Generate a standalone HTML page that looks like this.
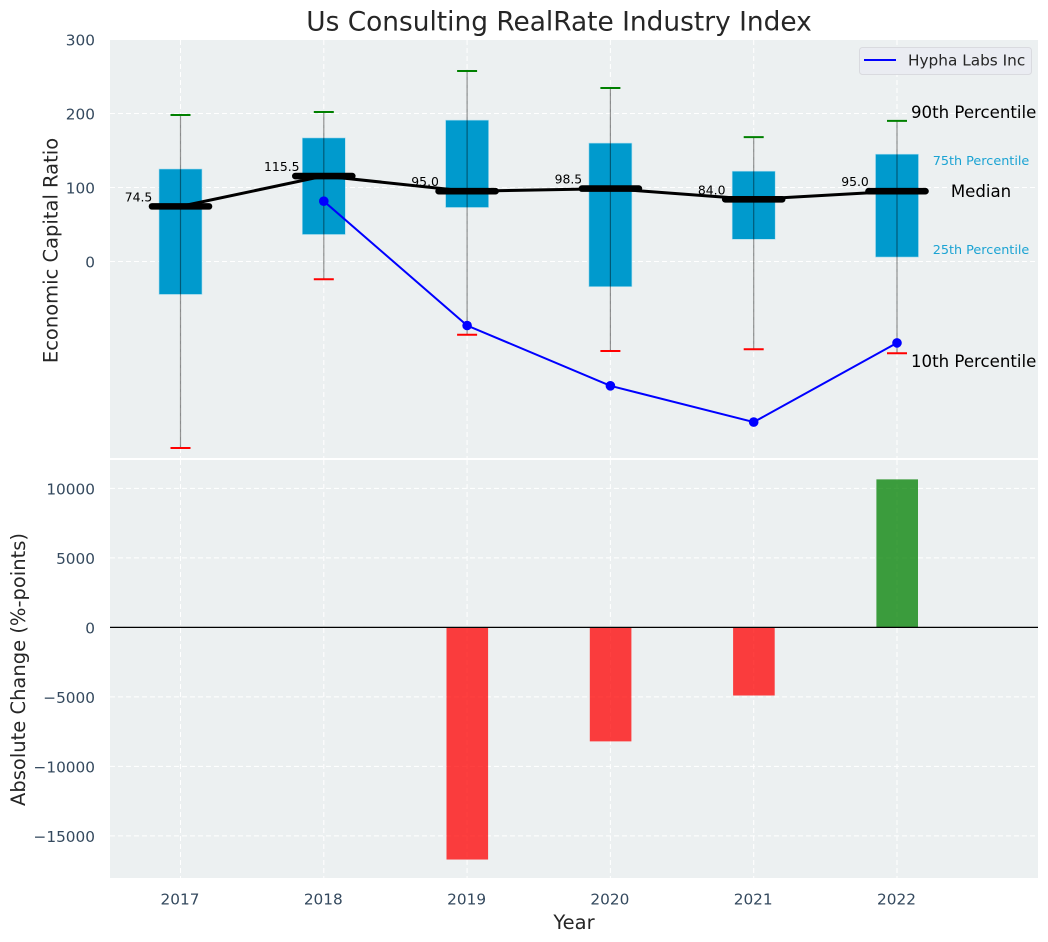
<!DOCTYPE html>
<html>
<head>
<meta charset="utf-8">
<style>
html,body{margin:0;padding:0;background:#fff;}
svg{display:block;}
text{font-family:"DejaVu Sans","Liberation Sans",sans-serif;}
</style>
</head>
<body>
<svg id="chart" xmlns="http://www.w3.org/2000/svg" width="1048" height="942" viewBox="0 0 1048 942">
  <rect x="110" y="40" width="928" height="418" fill="#ecf0f1"/>
  <rect x="110" y="460" width="928" height="418" fill="#ecf0f1"/>
  <g id="grid"></g>
  <g id="marks"></g>
  <g id="labels"></g>
  <text x="559" y="30.5" text-anchor="middle" font-size="26.4" fill="#262626">Us Consulting RealRate Industry Index</text>
  <text transform="translate(57.5,250.5) rotate(-90)" text-anchor="middle" font-size="19.5" fill="#262626">Economic Capital Ratio</text>
  <text transform="translate(25,669.5) rotate(-90)" text-anchor="middle" font-size="19.5" fill="#262626">Absolute Change (%-points)</text>
  <text x="574" y="929" text-anchor="middle" font-size="19.5" fill="#262626">Year</text>
  <g>
    <rect x="859.5" y="47.5" width="172" height="27" rx="3" fill="#eaecf2" stroke="#d9dadf" stroke-width="1"/>
    <line x1="864" y1="60" x2="896" y2="60" stroke="#0000ff" stroke-width="2"/>
    <text x="908" y="65.5" font-size="15.3" fill="#262626">Hypha Labs Inc</text>
  </g>
</svg>
<script>
var years = [2017, 2018, 2019, 2020, 2021, 2022];
var p90 = [198, 202, 257.5, 234.5, 168, 190];
var p75 = [125, 167, 191, 160, 122, 145];
var medians = [74.5, 115.5, 95.0, 98.5, 84.0, 95.0];
var p25 = [-44.5, 36.5, 73, -34, 30, 6];
var p10 = [-252, -24, -99, -121, -118.5, -124];
var company = [null, 81.5, -86.5, -168, -217, -110];
var changes = [null, null, -16700, -8200, -4900, 10650];
var topTicks = [0, 100, 200, 300];
var bottomTicks = [-15000, -10000, -5000, 0, 5000, 10000];

var NS = 'http://www.w3.org/2000/svg';
function xAxis(v) { return 180.5 + (v - 2017) * 143.3; }
function yTop(v) { return 261.5 - v * 0.74; }
function yBottom(v) { return 627.4 - v * 0.0139; }

function make(parent, tag, attrs, txt) {
  var el = document.createElementNS(NS, tag);
  for (var k in attrs) { el.setAttribute(k, attrs[k]); }
  if (txt !== undefined) { el.textContent = txt; }
  document.getElementById(parent).appendChild(el);
  return el;
}
var el, i;
var barW = 0.3 * 143.3;
var dash = '5,3';
var tickSize = 15.3;

/* grid */
years.forEach(function (yr) {
  el = make('grid', 'line', {x1: xAxis(yr), x2: xAxis(yr), y1: 40, y2: 458, stroke: '#fff', 'stroke-width': 1, 'stroke-dasharray': dash});
  
  
  el = make('grid', 'line', {x1: xAxis(yr), x2: xAxis(yr), y1: 460, y2: 878, stroke: '#fff', 'stroke-width': 1, 'stroke-dasharray': dash});
  
  
  el = make('labels', 'text', {x: xAxis(yr) - 0.5, y: 904.5, 'text-anchor': 'middle', 'font-size': tickSize, fill: '#34495e'}, String(yr));
  
  
});
topTicks.forEach(function (t) {
  el = make('grid', 'line', {x1: 110, x2: 1038, y1: yTop(t), y2: yTop(t), stroke: '#fff', 'stroke-width': 1, 'stroke-dasharray': dash});
  
  
  el = make('labels', 'text', {x: 95, y: yTop(t) + 6.2, 'text-anchor': 'end', 'font-size': tickSize, fill: '#34495e'}, String(t));
  
  
});
bottomTicks.forEach(function (t) {
  el = make('grid', 'line', {x1: 110, x2: 1038, y1: yBottom(t), y2: yBottom(t), stroke: '#fff', 'stroke-width': 1, 'stroke-dasharray': dash});
  
  
  el = make('labels', 'text', {x: 95, y: yBottom(t) + 6.2, 'text-anchor': 'end', 'font-size': tickSize, fill: '#34495e'}, String(t).replace('-', '\u2212'));
  
  
});

/* boxes */
years.forEach(function (yr, i) {
  var x = xAxis(yr);
  el = make('marks', 'rect', {x: x - barW / 2, y: yTop(p75[i]), width: barW, height: yTop(p25[i]) - yTop(p75[i]), fill: '#009acd', stroke: '#a8dcee', 'stroke-width': 0.6});
  
  
});
/* whiskers */
years.forEach(function (yr, i) {
  var x = xAxis(yr);
  el = make('marks', 'line', {x1: x, x2: x, y1: yTop(p90[i]), y2: yTop(p10[i]), stroke: '#000', 'stroke-opacity': 0.42, 'stroke-width': 1.2});
  
  
  el = make('marks', 'line', {x1: x - 10, x2: x + 10, y1: yTop(p90[i]), y2: yTop(p90[i]), stroke: '#008000', 'stroke-width': 2});
  
  
  el = make('marks', 'line', {x1: x - 10, x2: x + 10, y1: yTop(p10[i]), y2: yTop(p10[i]), stroke: '#ff0000', 'stroke-width': 2});
  
  
});
/* median line */
var medPts = years.map(function (yr, i) { return xAxis(yr) + ',' + yTop(medians[i]); }).join(' ');
el = make('marks', 'polyline', {points: medPts, fill: 'none', stroke: '#000', 'stroke-width': 3});


years.forEach(function (yr, i) {
  var x = xAxis(yr);
  el = make('marks', 'line', {x1: x - 28.5, x2: x + 28.5, y1: yTop(medians[i]), y2: yTop(medians[i]), stroke: '#000', 'stroke-width': 6.6, 'stroke-linecap': 'round'});
  
  
  el = make('labels', 'text', {x: x - 42, y: yTop(medians[i]) - 5, 'text-anchor': 'middle', 'font-size': 12.4, fill: '#000'}, medians[i].toFixed(1));
  
  
});
/* company series */
var coPts = [];
years.forEach(function (yr, i) {
  if (company[i] !== null) { coPts.push(xAxis(yr) + ',' + yTop(company[i])); }
});
el = make('marks', 'polyline', {points: coPts.join(' '), fill: 'none', stroke: '#0000ff', 'stroke-width': 2});


years.forEach(function (yr, i) {
  if (company[i] === null) { return; }
  el = make('marks', 'circle', {cx: xAxis(yr), cy: yTop(company[i]), r: 4.8, fill: '#0000ff'});
  
  
});
/* change bars */
years.forEach(function (yr, i) {
  if (changes[i] === null) { return; }
  var a = yBottom(Math.max(changes[i], 0));
  var b = yBottom(Math.min(changes[i], 0));
  el = make('marks', 'rect', {x: xAxis(yr) - 20.6, y: a, width: 41.6, height: b - a, fill: changes[i] < 0 ? '#ff0000' : '#008000', 'fill-opacity': 0.75});
  
  
});
el = make('marks', 'line', {x1: 110, x2: 1038, y1: yBottom(0), y2: yBottom(0), stroke: '#000', 'stroke-width': 1.3});



/* percentile annotations on the last year */
var last = years.length - 1;
var lastX = xAxis(years[last]);
el = make('labels', 'text', {x: lastX + 14, y: yTop(p90[last]) - 3, 'font-size': 16.6, fill: '#000'}, '90th Percentile');


el = make('labels', 'text', {x: lastX + 14, y: yTop(p10[last]) + 13.5, 'font-size': 16.6, fill: '#000'}, '10th Percentile');


el = make('labels', 'text', {x: lastX + 84, y: yTop(medians[last]) + 6, 'text-anchor': 'middle', 'font-size': 16.6, fill: '#000'}, 'Median');


el = make('labels', 'text', {x: lastX + 84, y: yTop(p75[last]) + 11, 'text-anchor': 'middle', 'font-size': 12.8, fill: '#1ba3d3'}, '75th Percentile');


el = make('labels', 'text', {x: lastX + 84, y: yTop(p25[last]) - 3, 'text-anchor': 'middle', 'font-size': 12.8, fill: '#1ba3d3'}, '25th Percentile');


</script>
</body>
</html>
